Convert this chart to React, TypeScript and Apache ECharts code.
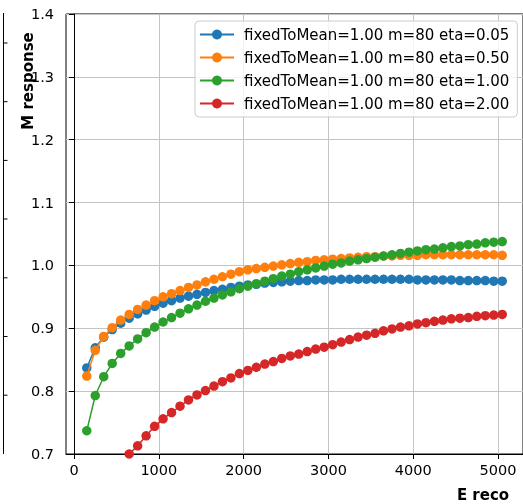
import React, { useEffect, useRef } from "react";
import * as echarts from "echarts";

const energy = [
  150, 250, 350, 450, 550, 650, 750, 850, 950, 1050,
  1150, 1250, 1350, 1450, 1550, 1650, 1750, 1850, 1950, 2050,
  2150, 2250, 2350, 2450, 2550, 2650, 2750, 2850, 2950, 3050,
  3150, 3250, 3350, 3450, 3550, 3650, 3750, 3850, 3950, 4050,
  4150, 4250, 4350, 4450, 4550, 4650, 4750, 4850, 4950, 5050,
];

const eta005 = [
  0.837, 0.869, 0.886, 0.898, 0.908, 0.916, 0.923, 0.929, 0.935, 0.940,
  0.944, 0.948, 0.951, 0.954, 0.957, 0.960, 0.962, 0.965, 0.967, 0.969,
  0.970, 0.972, 0.973, 0.974, 0.975, 0.976, 0.976, 0.977, 0.977, 0.977,
  0.978, 0.978, 0.978, 0.978, 0.978, 0.978, 0.978, 0.978, 0.978, 0.977,
  0.977, 0.977, 0.977, 0.977, 0.976, 0.976, 0.976, 0.976, 0.975, 0.975,
];

const eta050 = [
  0.824, 0.865, 0.887, 0.901, 0.913, 0.922, 0.930, 0.937, 0.944, 0.950,
  0.955, 0.960, 0.965, 0.969, 0.974, 0.978, 0.982, 0.986, 0.990, 0.993,
  0.995, 0.997, 0.999, 1.001, 1.003, 1.005, 1.006, 1.008, 1.009, 1.010,
  1.011, 1.012, 1.013, 1.014, 1.014, 1.015, 1.015, 1.016, 1.016, 1.016,
  1.017, 1.017, 1.017, 1.017, 1.017, 1.017, 1.017, 1.017, 1.017, 1.016,
];

const eta100 = [
  0.737, 0.793, 0.823, 0.844, 0.860, 0.872, 0.883, 0.893, 0.902, 0.910,
  0.917, 0.924, 0.931, 0.937, 0.943, 0.948, 0.953, 0.958, 0.963, 0.967,
  0.971, 0.975, 0.979, 0.983, 0.986, 0.990, 0.993, 0.996, 0.999, 1.002,
  1.004, 1.007, 1.009, 1.011, 1.013, 1.015, 1.017, 1.019, 1.021, 1.023,
  1.025, 1.026, 1.028, 1.030, 1.031, 1.033, 1.034, 1.036, 1.037, 1.038,
];

const eta200 = [
  0.580, 0.620, 0.650, 0.672, 0.689, 0.700, 0.713, 0.729, 0.744, 0.756,
  0.766, 0.776, 0.786, 0.794, 0.801, 0.808, 0.815, 0.821, 0.828, 0.833,
  0.838, 0.843, 0.847, 0.852, 0.856, 0.859, 0.863, 0.867, 0.870, 0.874,
  0.878, 0.882, 0.886, 0.889, 0.892, 0.896, 0.899, 0.902, 0.904, 0.907,
  0.909, 0.911, 0.913, 0.915, 0.916, 0.917, 0.919, 0.920, 0.921, 0.922,
];

const seriesNames = [
  "fixedToMean=1.00 m=80 eta=0.05",
  "fixedToMean=1.00 m=80 eta=0.50",
  "fixedToMean=1.00 m=80 eta=1.00",
  "fixedToMean=1.00 m=80 eta=2.00",
];
const seriesValues = [eta005, eta050, eta100, eta200];
const colors = ["#1f77b4", "#ff7f0e", "#2ca02c", "#d62728"];

const xTicks = [0, 1000, 2000, 3000, 4000, 5000];
const leftPanelTicks = [43, 101.7, 160.4, 219, 277.8, 336.5, 395.2];

const FONT = "DejaVu Sans";

export default function App() {
  const ref = useRef<HTMLDivElement>(null);

  useEffect(() => {
    if (!ref.current) return;
    const chart = echarts.init(ref.current, undefined, { renderer: "svg" });

    const series = seriesNames.map((name, k) => ({
      name,
      type: "line",
      data: energy.map((e, i) => [e, seriesValues[k][i]]),
      symbol: "circle",
      symbolSize: 9.5,
      showSymbol: true,
      color: colors[k],
      lineStyle: { width: 1.5, color: colors[k] },
      itemStyle: { color: colors[k] },
      clip: true,
      z: 2 + k,
    }));

    const graphic: any[] = [
      {
        type: "line",
        shape: { x1: 3.5, y1: 13, x2: 3.5, y2: 454 },
        style: { stroke: "#000", lineWidth: 1 },
        silent: true,
      },
      ...leftPanelTicks.map((y) => ({
        type: "line",
        shape: { x1: 3.5, y1: y, x2: 7.5, y2: y },
        style: { stroke: "#000", lineWidth: 1 },
        silent: true,
      })),
      {
        type: "text",
        x: 28,
        y: 81,
        rotation: Math.PI / 2,
        style: {
          text: "M response",
          font: `bold 15px "${FONT}"`,
          fill: "#000",
          align: "center",
          verticalAlign: "middle",
        },
      },
      {
        type: "text",
        x: 483,
        y: 495,
        style: {
          text: "E reco",
          font: `bold 15px "${FONT}"`,
          fill: "#000",
          align: "center",
          verticalAlign: "middle",
        },
      },
    ];

    chart.setOption({
      animation: false,
      textStyle: { fontFamily: FONT },
      grid: {
        left: 66,
        top: 14,
        width: 464,
        height: 440,
        show: true,
        borderColor: "#000",
        borderWidth: 1,
        backgroundColor: "transparent",
        containLabel: false,
      },
      xAxis: {
        type: "value",
        min: -95,
        max: 5295,
        axisLine: { show: true, lineStyle: { color: "#000", width: 1 } },
        axisTick: {
          show: true,
          length: 5,
          inside: false,
          customValues: xTicks,
          lineStyle: { color: "#000", width: 1 },
        },
        axisLabel: {
          customValues: xTicks,
          margin: 8,
          color: "#000",
          fontSize: 14.5,
          fontFamily: FONT,
          formatter: (v: number) => String(Math.round(v)),
        },
        splitLine: { show: true, lineStyle: { color: "#c4c4c4", width: 1 } },
      },
      yAxis: {
        type: "value",
        min: 0.7,
        max: 1.4,
        interval: 0.1,
        axisLine: { show: true, lineStyle: { color: "#000", width: 1 } },
        axisTick: {
          show: true,
          length: 5,
          inside: false,
          lineStyle: { color: "#000", width: 1 },
        },
        axisLabel: {
          margin: 12,
          color: "#000",
          fontSize: 14.5,
          fontFamily: FONT,
          formatter: (v: number) => v.toFixed(1),
        },
        splitLine: { show: true, lineStyle: { color: "#c4c4c4", width: 1 } },
      },
      legend: {
        orient: "vertical",
        left: 195,
        top: 21,
        padding: [5, 8, 5, 4],
        itemWidth: 34,
        itemHeight: 12.5,
        itemGap: 6,
        backgroundColor: "rgba(255,255,255,0.8)",
        borderColor: "#cccccc",
        borderWidth: 1,
        borderRadius: 4,
        textStyle: {
          fontFamily: FONT,
          fontSize: 15,
          lineHeight: 17,
          color: "#000",
          padding: [0, 0, 0, 5],
        },
        data: seriesNames,
      },
      graphic,
      series,
    });

    return () => chart.dispose();
  }, []);

  return (
    <div
      ref={ref}
      style={{ position: "fixed", left: 0, top: 0, width: 523, height: 504 }}
    />
  );
}
